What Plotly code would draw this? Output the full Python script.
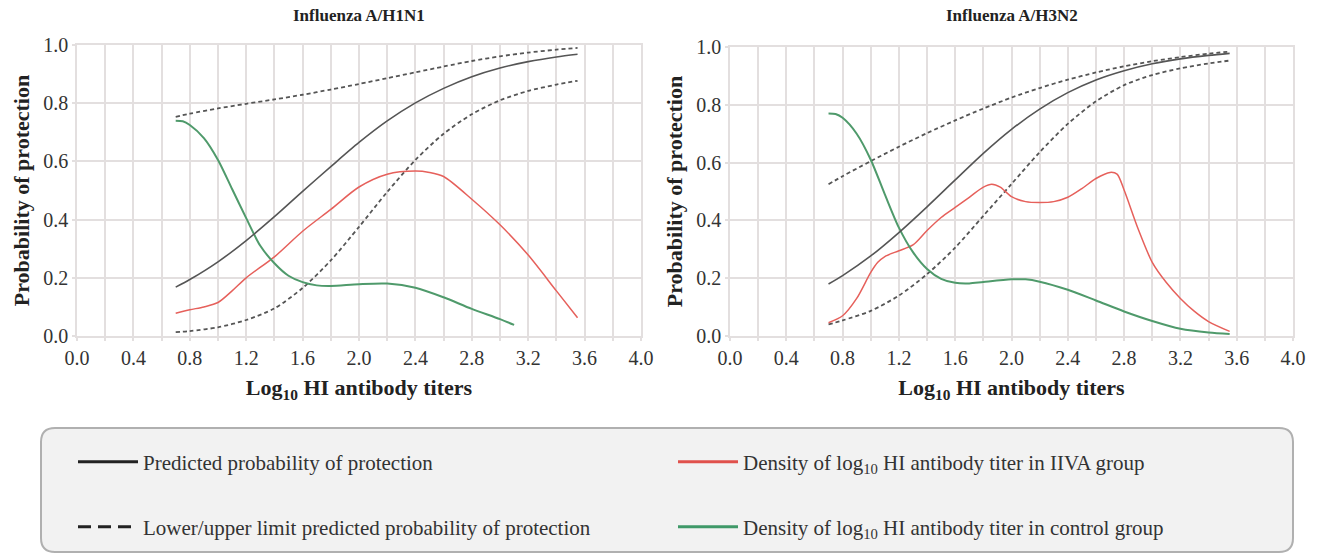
import plotly.graph_objects as go

W, H = 1318, 553

# ---------------- data ----------------
# Influenza A/H1N1
h1_x_pred = [0.7, 0.8, 1.0, 1.2, 1.4, 1.6, 1.8, 2.0, 2.2, 2.4, 2.6, 2.8, 3.0, 3.2, 3.4, 3.55]
h1_pred = [0.168, 0.194, 0.255, 0.328, 0.41, 0.497, 0.582, 0.665, 0.739, 0.801, 0.851, 0.891, 0.921, 0.943, 0.959, 0.968]
h1_upper = [0.753, 0.764, 0.782, 0.798, 0.813, 0.829, 0.847, 0.866, 0.886, 0.906, 0.926, 0.945, 0.961, 0.974, 0.984, 0.99]
h1_lower = [0.013, 0.017, 0.03, 0.055, 0.095, 0.165, 0.26, 0.375, 0.495, 0.605, 0.695, 0.762, 0.81, 0.842, 0.864, 0.877]

h1_x_iiva = [0.7, 0.8, 0.9, 1.0, 1.1, 1.2, 1.4, 1.6, 1.8, 2.0, 2.2, 2.4, 2.5, 2.6, 2.8, 3.0, 3.2, 3.4, 3.55]
h1_iiva = [0.078, 0.09, 0.10, 0.115, 0.155, 0.20, 0.272, 0.36, 0.435, 0.512, 0.556, 0.567, 0.562, 0.548, 0.47, 0.382, 0.278, 0.155, 0.063]

h1_x_ctrl = [0.7, 0.75, 0.8, 0.9, 1.0, 1.1, 1.2, 1.3, 1.4, 1.5, 1.6, 1.7, 1.8, 2.0, 2.2, 2.4, 2.6, 2.8, 3.0, 3.1]
h1_ctrl = [0.74, 0.738, 0.725, 0.68, 0.605, 0.505, 0.405, 0.31, 0.25, 0.207, 0.185, 0.174, 0.172, 0.178, 0.18, 0.166, 0.133, 0.093, 0.058, 0.038]

# Influenza A/H3N2
h3_x_pred = [0.7, 0.8, 1.0, 1.2, 1.4, 1.6, 1.8, 2.0, 2.2, 2.4, 2.6, 2.8, 3.0, 3.2, 3.4, 3.55]
h3_pred = [0.18, 0.209, 0.277, 0.358, 0.447, 0.54, 0.632, 0.715, 0.785, 0.842, 0.886, 0.918, 0.942, 0.959, 0.971, 0.978]
h3_upper = [0.525, 0.553, 0.605, 0.655, 0.702, 0.746, 0.787, 0.825, 0.858, 0.887, 0.912, 0.933, 0.951, 0.965, 0.977, 0.984]
h3_lower = [0.04, 0.054, 0.087, 0.14, 0.214, 0.306, 0.416, 0.526, 0.636, 0.734, 0.812, 0.868, 0.903, 0.926, 0.943, 0.953]

h3_x_iiva = [0.7, 0.8, 0.9, 1.0, 1.05, 1.1, 1.2, 1.3, 1.4, 1.5, 1.6, 1.7, 1.8, 1.86, 1.92, 2.0, 2.1, 2.2, 2.3, 2.4, 2.5, 2.6, 2.7, 2.75, 2.8, 2.9, 3.0, 3.1, 3.2, 3.3, 3.4, 3.55]
h3_iiva = [0.046, 0.07, 0.13, 0.22, 0.255, 0.275, 0.295, 0.315, 0.365, 0.41, 0.445, 0.48, 0.515, 0.525, 0.515, 0.482, 0.465, 0.462, 0.465, 0.48, 0.51, 0.545, 0.566, 0.56, 0.505, 0.37, 0.255, 0.185, 0.13, 0.085, 0.05, 0.016]

h3_x_ctrl = [0.7, 0.75, 0.8, 0.9, 1.0, 1.1, 1.2, 1.3, 1.4, 1.5, 1.6, 1.7, 1.8, 2.0, 2.1, 2.2, 2.4, 2.6, 2.8, 3.0, 3.2, 3.4, 3.55]
h3_ctrl = [0.77, 0.768, 0.755, 0.70, 0.61, 0.49, 0.375, 0.29, 0.232, 0.198, 0.184, 0.182, 0.187, 0.196, 0.196, 0.188, 0.16, 0.123, 0.085, 0.052, 0.025, 0.012, 0.007]

panel_titles = ["Influenza A/H1N1", "Influenza A/H3N2"]
legend_labels = [
    "Predicted probability of protection",
    "Lower/upper limit predicted probability of protection",
    "Density of log<sub>10</sub> HI antibody titer in IIVA group",
    "Density of log<sub>10</sub> HI antibody titer in control group",
]
x_title = "Log<sub>10</sub> HI antibody titers"
y_title = "Probability of protection"
x_ticks = [0.0, 0.4, 0.8, 1.2, 1.6, 2.0, 2.4, 2.8, 3.2, 3.6, 4.0]
y_ticks = [0.0, 0.2, 0.4, 0.6, 0.8, 1.0]

# ---------------- style ----------------
FONT = "Liberation Serif"
C_PRED = "#555555"
C_RED = "#e6605b"
C_GREEN = "#4f9a6b"
GRID = "#e3dfdf"

def px(x):
    return x / W

def py(y):
    return 1 - y / H

fig = go.Figure()

panels = [
    dict(xa="x", ya="y", xp=h1_x_pred, pred=h1_pred, up=h1_upper, lo=h1_lower,
         xi=h1_x_iiva, iiva=h1_iiva, xc=h1_x_ctrl, ctrl=h1_ctrl),
    dict(xa="x2", ya="y2", xp=h3_x_pred, pred=h3_pred, up=h3_upper, lo=h3_lower,
         xi=h3_x_iiva, iiva=h3_iiva, xc=h3_x_ctrl, ctrl=h3_ctrl),
]

for p in panels:
    common = dict(xaxis=p["xa"], yaxis=p["ya"], mode="lines", showlegend=False, hoverinfo="x+y")
    fig.add_trace(go.Scatter(x=p["xp"], y=p["up"], legendgroup="ci",
                             line=dict(color=C_PRED, width=1.8, dash="4px,3px", shape="spline", smoothing=0.8), **common))
    fig.add_trace(go.Scatter(x=p["xp"], y=p["lo"], legendgroup="ci",
                             line=dict(color=C_PRED, width=1.8, dash="4px,3px", shape="spline", smoothing=0.8), **common))
    fig.add_trace(go.Scatter(x=p["xi"], y=p["iiva"], legendgroup="iiva",
                             line=dict(color=C_RED, width=1.5, shape="spline", smoothing=0.8), **common))
    fig.add_trace(go.Scatter(x=p["xc"], y=p["ctrl"], legendgroup="ctrl",
                             line=dict(color=C_GREEN, width=2, shape="spline", smoothing=0.8), **common))
    fig.add_trace(go.Scatter(x=p["xp"], y=p["pred"], legendgroup="pred",
                             line=dict(color=C_PRED, width=1.6, shape="spline", smoothing=0.8), **common))

# legend keys (one legend per entry so each sits at its place in the box)
legend_specs = [
    ("pred", legend_labels[0], dict(color="#222222", width=3), "legend"),
    ("ci", legend_labels[1], dict(color="#222222", width=3, dash="13px,7px"), "legend2"),
    ("iiva", legend_labels[2], dict(color="#e0514c", width=3), "legend3"),
    ("ctrl", legend_labels[3], dict(color="#3f9968", width=3), "legend4"),
]
for grp, name, line, lg in legend_specs:
    fig.add_trace(go.Scatter(x=[None], y=[None], mode="lines", name=name, legendgroup=grp,
                             line=line, showlegend=True, legend=lg, xaxis="x", yaxis="y"))

leg_font = dict(family=FONT, size=21, color="#333333")
leg_common = dict(font=leg_font, bgcolor="rgba(0,0,0,0)", borderwidth=0, itemwidth=60,
                  xanchor="left", yanchor="middle", orientation="h", itemclick="toggleothers")
fig.update_layout(
    legend=dict(x=px(73), y=py(462), **leg_common),
    legend2=dict(x=px(73), y=py(527), **leg_common),
    legend3=dict(x=px(673), y=py(462), **leg_common),
    legend4=dict(x=px(673), y=py(527), **leg_common),
)

axis_common = dict(
    showgrid=True, gridcolor=GRID, gridwidth=1.5, zeroline=False,
    showline=True, mirror=True, linecolor=GRID, linewidth=1.5,
    ticks="outside", ticklen=3, tickcolor=GRID, tickwidth=1.5,
    tickfont=dict(family=FONT, size=20, color="#333333"),
    automargin=False, tickformat=".1f", fixedrange=True,
)
xaxis_common = dict(range=[0, 4], tickvals=x_ticks,
                    minor=dict(dtick=0.2, tick0=0, showgrid=True, gridcolor=GRID, gridwidth=1.5,
                               ticks="outside", ticklen=3, tickcolor=GRID),
                    title=dict(text=x_title, font=dict(family=FONT, size=22, color="#222222", weight="bold"), standoff=12),
                    **axis_common)
yaxis_common = dict(range=[0, 1], tickvals=y_ticks,
                    title=dict(text=y_title, font=dict(family=FONT, size=22, color="#222222", weight="bold"), standoff=8),
                    **axis_common)

fig.update_layout(
    xaxis=dict(domain=[px(77), px(641)], anchor="y", **xaxis_common),
    yaxis=dict(domain=[py(336), py(45)], anchor="x", **yaxis_common),
    xaxis2=dict(domain=[px(730), px(1293)], anchor="y2", **xaxis_common),
    yaxis2=dict(domain=[py(336), py(47)], anchor="x2", **yaxis_common),
)

# panel titles
for i, t in enumerate(panel_titles):
    cx = (77 + 641) / 2 if i == 0 else (730 + 1293) / 2
    fig.add_annotation(text=t, x=px(cx), y=py(16), xref="paper", yref="paper",
                       showarrow=False, xanchor="center", yanchor="middle",
                       font=dict(family=FONT, size=17, color="#222222", weight="bold"))

# rounded legend box
x0, x1, y0, y1, r = 41, 1293, 428, 552, 14
path = (f"M {px(x0 + r)},{py(y0)} L {px(x1 - r)},{py(y0)} Q {px(x1)},{py(y0)} {px(x1)},{py(y0 + r)} "
        f"L {px(x1)},{py(y1 - r)} Q {px(x1)},{py(y1)} {px(x1 - r)},{py(y1)} "
        f"L {px(x0 + r)},{py(y1)} Q {px(x0)},{py(y1)} {px(x0)},{py(y1 - r)} "
        f"L {px(x0)},{py(y0 + r)} Q {px(x0)},{py(y0)} {px(x0 + r)},{py(y0)} Z")
fig.add_shape(type="path", path=path, xref="paper", yref="paper",
              fillcolor="#f2f2f2", line=dict(color="#b0b0b0", width=2), layer="below")

fig.update_layout(
    width=W, height=H,
    margin=dict(l=0, r=0, t=0, b=0, autoexpand=False),
    paper_bgcolor="white", plot_bgcolor="white",
    font=dict(family=FONT, color="#333333"),
    hovermode="closest",
)

fig.write_html("out.html", config={"displayModeBar": False},
               post_script="document.body.style.margin='0px';")
